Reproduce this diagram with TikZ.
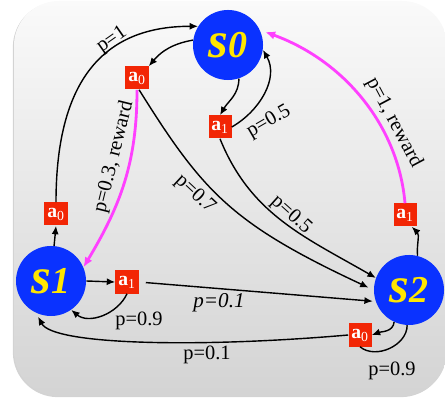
\documentclass[tikz,border=0pt]{standalone}
\usepackage{fontspec}
\setmainfont{Liberation Serif}
\usetikzlibrary{arrows.meta, shadows}
\definecolor{myblue}{RGB}{10, 50, 255}
\definecolor{myyellow}{RGB}{255, 230, 0}
\definecolor{myred}{RGB}{242, 38, 5}
\definecolor{mymagenta}{RGB}{255, 64, 255}
\tikzset{>={Latex[length=6pt,width=5pt]}}
\tikzset{
  state/.style={circle, fill=myblue, text=myyellow, minimum size=1.75cm, inner sep=0pt, font=\bfseries\itshape},
  act/.style={fill=myred, text=white, minimum size=0.575cm, inner sep=0pt, font=\fontsize{14}{14}\selectfont\bfseries},
  lbl/.style={inner sep=0pt, font=\fontsize{14.5}{16}\selectfont},
  edge/.style={->, line width=1pt},
  redge/.style={-{Latex[length=7pt,width=6pt]}, line width=2pt, mymagenta}
}
\newcommand{\sname}[1]{{\fontsize{36}{36}\selectfont s}{\fontsize{27}{27}\selectfont #1}}
\newcommand{\aname}[1]{a\textsubscript{\mdseries #1}}

\begin{document}
\begin{tikzpicture}[x=0.025cm, y=0.025cm]
\useasboundingbox (0,0) rectangle (445,399);
\path[top color=gray!4, bottom color=gray!34, rounded corners=1.12cm,
  drop shadow={shadow xshift=-0.8pt, shadow yshift=-0.8pt, opacity=.35}] (14,3) rectangle (447,398);

\node[state] (s0) at (228,354) {\sname{0}};
\node[state] (s1) at (51,118) {\sname{1}};
\node[state] (s2) at (409,109) {\sname{2}};
\node[act] (s0a0) at (137,321) {\aname{0}};
\node[act] (s0a1) at (220,272) {\aname{1}};
\node[act] (s1a0) at (56,185) {\aname{0}};
\node[act] (s1a1) at (127,117) {\aname{1}};
\node[act] (s2a1) at (405,184) {\aname{1}};
\node[act] (s2a0) at (360,64) {\aname{0}};

\draw[edge] (s1a0.north) to[out=90, in=180, out looseness=1.46, in looseness=1] (s0.148);
\draw[edge] (s0.172) to[out=190, in=50] (s0a0.north east);
\draw[redge] (s0a0.south) to[out=-90, in=59] (s1.23);
\draw[edge, shorten >=4pt] (s0a0.-80) to[out=-58, in=155, in looseness=1.3] (s2.180);
\draw[edge] (s0.-72) to[out=-90, in=60] (s0a1.north);
\draw[edge] (s0a1.east) to[out=30, in=-60] (s0.-8);
\draw[edge] (s0a1.south) to[out=-68, in=150] (s2.160);
\draw[edge] (s1.85) -- (s1a0.south);
\draw[edge] (s1.east) -- (s1a1.west);
\draw[edge, shorten <=5pt, shorten >=2pt] (s1a1.east) -- (s2.199);
\draw[edge] (s1a1.south) to[out=-115, in=-40] (s1.-55);
\draw[edge] (s2.76) to[out=95, in=-45] (s2a1.-60);
\draw[redge, shorten >=4pt] (s2a1.north) to[out=95, in=-20, out looseness=.9] (s0.25);
\draw[edge] (s2.-115) to[out=-95, in=20] (s2a0.east);
\draw[line width=1pt] (s2a0.south) to[out=-40, in=-90] (s2.-93);
\draw[edge, shorten >=3pt] (s2a0.west) to[out=185, in=-62, out looseness=1.2, in looseness=.3] (s1.-115);

\node[lbl, rotate=35] (lp1) at (112,359) {p=1};
\node[lbl, rotate=76] (lp03) at (114,242) {p=0.3, reward};
\node[lbl, rotate=-43] (lp07) at (195,205) {p=0.7};
\node[lbl, rotate=30] (lp05a) at (269,277) {p=0.5};
\node[lbl, rotate=-42] (lp05b) at (291,184) {p=0.5};
\node[lbl, rotate=-62] (lp1r) at (394,276) {p=1, reward};
\node[lbl, font=\fontsize{15}{16}\selectfont\itshape] (lp01a) at (219,96) {p=0.1};
\node[lbl] (lp09a) at (139,78) {p=0.9};
\node[lbl] (lp01b) at (207,44) {p=0.1};
\node[lbl] (lp09b) at (392,28) {p=0.9};
\end{tikzpicture}
\end{document}
